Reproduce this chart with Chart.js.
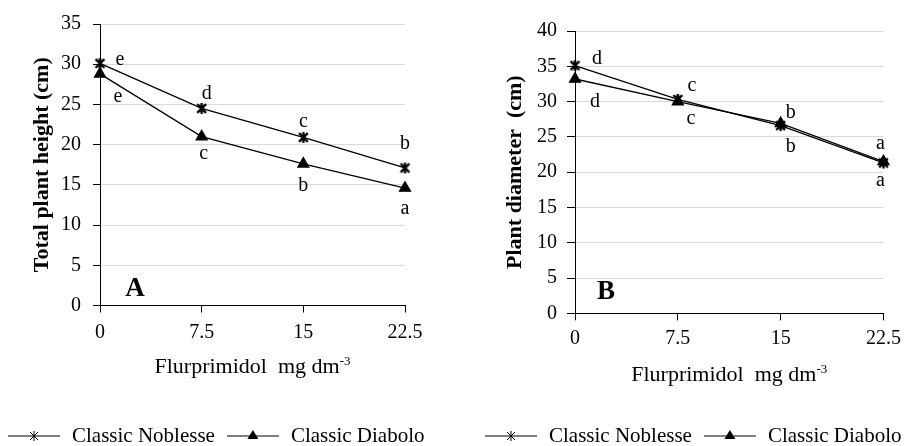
<!DOCTYPE html>
<html>
<head>
<meta charset="utf-8">
<script src="https://cdn.jsdelivr.net/npm/chart.js@4.4.1/dist/chart.umd.min.js"></script>
<style>
  body { margin: 0; background: #fff; }
  #wrap { position: relative; width: 907px; height: 446px; }
  canvas { position: absolute; top: 0; }
  #chartA { left: 0; }
  #chartB { left: 453px; }
</style>
</head>
<body>
<div id="wrap">
  <canvas id="chartA" width="453" height="446"></canvas>
  <canvas id="chartB" width="454" height="446"></canvas>
</div>
<script>
// flurprimidol doses (mg dm-3)
const doses = [0, 7.5, 15, 22.5];
const seriesNames = ['Classic Noblesse', 'Classic Diabolo'];

// A - total plant height (cm)
const heightNoblesse = [30.1, 24.5, 20.9, 17.1];
const heightDiabolo = [28.8, 21.0, 17.6, 14.6];
const heightLettersNoblesse = ['e', 'd', 'c', 'b'];
const heightLettersDiabolo = ['e', 'c', 'b', 'a'];

// B - plant diameter (cm)
const diamNoblesse = [35.1, 30.3, 26.6, 21.3];
const diamDiabolo = [33.2, 30.0, 26.9, 21.5];
const diamLettersNoblesse = ['d', 'c', 'b', 'a'];
const diamLettersDiabolo = ['d', 'c', 'b', 'a'];

const FONT = 'Liberation Serif';

function starMarker(size, lw) {
  const c = document.createElement('canvas');
  c.width = size; c.height = size;
  const g = c.getContext('2d');
  g.strokeStyle = '#000';
  g.lineWidth = lw;
  const m = size / 2, r = size / 2 - 1, d = r * 0.8;
  g.beginPath();
  g.moveTo(m - d, m - d); g.lineTo(m + d, m + d);
  g.moveTo(m + d, m - d); g.lineTo(m - d, m + d);
  g.moveTo(m, m - r); g.lineTo(m, m + r);
  g.stroke();
  return c;
}
const starImg = starMarker(13, 2.3);
const starLegend = starMarker(12, 1);

// letters, panel label, x title and legend
const annotate = {
  id: 'annotate',
  afterDatasetsDraw(chart, args, opts) {
    const ctx = chart.ctx, xs = chart.scales.x, ys = chart.scales.y, area = chart.chartArea;
    ctx.save();
    ctx.fillStyle = '#000';
    ctx.strokeStyle = '#000';
    ctx.textAlign = 'center';
    ctx.textBaseline = 'middle';

    ctx.font = '20px ' + FONT;
    opts.letters.forEach((arr, d) => {
      arr.forEach((t, i) => {
        const p = chart.data.datasets[d].data[i];
        const off = opts.letterOffsets[d][i];
        ctx.fillText(t, xs.getPixelForValue(p.x) + off[0], ys.getPixelForValue(p.y) + off[1]);
      });
    });

    ctx.font = 'bold 27px ' + FONT;
    ctx.fillText(opts.panel, area.left + opts.panelPos[0], area.bottom + opts.panelPos[1]);

    // x axis title with superscript
    const main = 'Flurprimidol  mg dm', sup = '-3';
    ctx.font = '22px ' + FONT;
    const w1 = ctx.measureText(main).width;
    ctx.font = '13px ' + FONT;
    const w2 = ctx.measureText(sup).width;
    const tx = (area.left + area.right) / 2 - (w1 + w2) / 2;
    const ty = area.bottom + 67.5;
    ctx.textAlign = 'left';
    ctx.textBaseline = 'alphabetic';
    ctx.font = '22px ' + FONT;
    ctx.fillText(main, tx, ty);
    ctx.font = '13px ' + FONT;
    ctx.fillText(sup, tx + w1, ty - 8);

    // legend
    let x = opts.legendX;
    const y = 436;
    ctx.font = '21px ' + FONT;
    ctx.textBaseline = 'middle';
    chart.data.datasets.forEach((ds, d) => {
      ctx.lineWidth = 1;
      ctx.beginPath();
      ctx.moveTo(x, y); ctx.lineTo(x + 52, y);
      ctx.stroke();
      const mx = x + 26;
      if (d === 0) {
        ctx.drawImage(starLegend, mx - 6, y - 6);
      } else {
        ctx.beginPath();
        ctx.moveTo(mx, y - 6); ctx.lineTo(mx + 5.5, y + 3); ctx.lineTo(mx - 5.5, y + 3);
        ctx.closePath();
        ctx.fill();
      }
      x += 64;
      ctx.fillText(ds.label, x, y);
      x += ctx.measureText(ds.label).width + 12;
    });
    ctx.restore();
  }
};

function makeChart(id, cfg) {
  const tickFont = { family: FONT, size: 20 };
  return new Chart(document.getElementById(id), {
    type: 'line',
    data: {
      datasets: [
        {
          label: seriesNames[0],
          data: doses.map((x, i) => ({ x, y: cfg.noblesse[i] })),
          borderColor: '#000', borderWidth: 1.3,
          pointStyle: starImg, pointRadius: 6,
          clip: false
        },
        {
          label: seriesNames[1],
          data: doses.map((x, i) => ({ x, y: cfg.diabolo[i] })),
          borderColor: '#000', borderWidth: 1.3,
          pointStyle: 'triangle', pointRadius: 6.3,
          pointBackgroundColor: '#000', pointBorderColor: '#000',
          clip: false
        }
      ]
    },
    options: {
      responsive: false,
      animation: false,
      devicePixelRatio: 1,
      layout: { padding: cfg.padding },
      plugins: {
        legend: { display: false },
        tooltip: { enabled: false },
        annotate: {
          letters: cfg.letters,
          letterOffsets: cfg.letterOffsets,
          panel: cfg.panel,
          panelPos: cfg.panelPos,
          legendX: cfg.legendX
        }
      },
      scales: {
        x: {
          type: 'linear', min: 0, max: 22.5,
          afterBuildTicks: s => { s.ticks = doses.map(v => ({ value: v })); },
          afterFit: s => { s.height = cfg.xHeight; },
          grid: { drawOnChartArea: false, tickLength: 7, tickColor: '#000' },
          border: { color: '#000' },
          ticks: { color: '#000', font: tickFont, padding: cfg.xPad, maxRotation: 0 }
        },
        y: {
          min: 0, max: cfg.ymax,
          afterFit: s => { s.width = cfg.yWidth; },
          grid: { color: '#d9d9d9', tickColor: '#000', tickLength: cfg.yTick },
          border: { color: '#000' },
          ticks: { stepSize: 5, color: '#000', font: tickFont, padding: cfg.yPad },
          title: {
            display: true, text: cfg.yTitle, color: '#000',
            font: { family: FONT, size: 22, weight: 'bold' },
            padding: { top: cfg.titlePad, bottom: 0 }
          }
        }
      }
    },
    plugins: [annotate]
  });
}

makeChart('chartA', {
  noblesse: heightNoblesse,
  diabolo: heightDiabolo,
  letters: [heightLettersNoblesse, heightLettersDiabolo],
  letterOffsets: [
    [[20, -4], [5, -15], [0, -16], [0, -24]],
    [[18, 23], [2, 17], [0, 22], [0, 21]]
  ],
  ymax: 35,
  yTitle: 'Total plant height (cm)',
  panel: 'A', panelPos: [35, -16.5],
  padding: { top: 23, right: 48, bottom: 0, left: 0 },
  yWidth: 100, xHeight: 140.5,
  xPad: 8, yTick: 7, yPad: 12, titlePad: 29.3,
  legendX: 8
});

makeChart('chartB', {
  noblesse: diamNoblesse,
  diabolo: diamDiabolo,
  letters: [diamLettersNoblesse, diamLettersDiabolo],
  letterOffsets: [
    [[22, -7], [14, -14], [10, -13], [-3, -19]],
    [[20, 23], [13, 17], [10, 23], [-3, 19]]
  ],
  ymax: 40,
  yTitle: 'Plant diameter  (cm)',
  panel: 'B', panelPos: [31, -21],
  padding: { top: 31, right: 21, bottom: 0, left: 0 },
  yWidth: 122, xHeight: 132.7,
  xPad: 6, yTick: 8, yPad: 10, titlePad: 49.3,
  legendX: 32
});
</script>
</body>
</html>
